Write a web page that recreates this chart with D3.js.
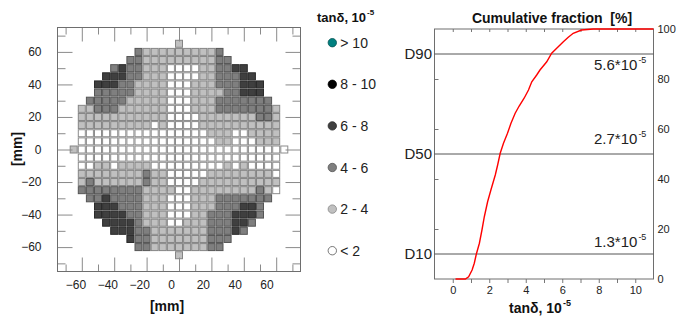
<!DOCTYPE html>
<html>
<head>
<meta charset="utf-8">
<script src="https://cdn.jsdelivr.net/npm/d3@7"></script>
<style>
  body { margin: 0; background: #fff; }
  svg { display: block; font-family: "Liberation Sans", Arial, sans-serif; }
</style>
</head>
<body>
<div id="chart"></div>
<script>
// wafer map, one string per row (y = 65 ... -65 mm), one char per column (x = -65 ... 65 mm)
// 0: < 2, 1: 2 - 4, 2: 4 - 6, 3: 6 - 8, 4: 8 - 10, 5: > 10, ".": no die
var colX = [-65, -60, -55, -50, -45, -40, -35, -30, -25, -20, -15, -10, -5, 0, 5, 10, 15, 20, 25, 30, 35, 40, 45, 50, 55, 60, 65];
var rowY = [65, 60, 55, 50, 45, 40, 35, 30, 25, 20, 15, 10, 5, 0, -5, -10, -15, -20, -25, -30, -35, -40, -45, -50, -55, -60, -65];
var mapRows = [
  ".............1.............",
  "........21111111112........",
  ".......2211111111122.......",
  ".....23221110000112233.....",
  "....3332211100001122233....",
  "...333221111000111222333...",
  "...222221111000111122333...",
  "..22222111110001112222222..",
  ".1122211111100011122222221.",
  ".1111111111100001111111221.",
  ".1111111110100001111111111.",
  ".0000000000000000111001111.",
  ".0000000000000000011000111.",
  "100000000000000000000000000",
  ".0000000000000000000000000.",
  ".0011011110000000001010000.",
  ".1111111121100000111111110.",
  ".1211111121100001111111111.",
  ".2222222211110011111111210.",
  "..22322221110001112222222..",
  "...333222111000111222332...",
  "...333322111000112223332...",
  "....3333211100111222332....",
  ".....33322111111122232.....",
  ".......3221111111222.......",
  "........22111111122........",
  ".............1............."
];

var classLabels = ["< 2", "2 - 4", "4 - 6", "6 - 8", "8 - 10", "> 10"];
var classFill   = ["#ffffff", "#c0c0c0", "#7f7f7f", "#3f3f3f", "#000000", "#008080"];
var classStroke = ["#8c8c8c", "#858585", "#555555", "#2a2a2a", "#000000", "#005050"];
var legendOrder = [5, 4, 3, 2, 1, 0];

var mapMajor = [-60, -40, -20, 0, 20, 40, 60];
var mapMinor = [-70, -50, -30, -10, 10, 30, 50, 70];

// cumulative fraction curve
var cdfX = [0.15, 0.69, 0.87, 1.06, 1.18, 1.29, 1.46, 1.60, 1.73, 1.91, 2.09, 2.33, 2.46, 2.60, 2.78, 3.00, 3.19, 3.42, 3.64, 3.91, 4.15, 4.33, 4.60, 4.78, 5.15, 5.42, 5.78, 6.06, 6.33, 6.60, 7.06, 7.69, 11];
var cdfY = [0, 0, 0.9, 3.6, 6.3, 9.9, 14.3, 19.6, 24.9, 30.9, 35.6, 41.6, 45.6, 50.3, 54.3, 58.3, 62.3, 66.3, 69.2, 72.3, 75.6, 78.9, 81.6, 83.6, 86.9, 90.3, 92.9, 94.9, 96.7, 98.3, 99.6, 100, 100];

var dLevels = [90, 50, 10];
var dNames = ["D90", "D50", "D10"];
var dValues = ["5.6", "2.7", "1.3"];

var W = 689, H = 320;
var svg = d3.select("#chart").append("svg")
  .attr("width", W).attr("height", H);

// ---------- wafer map ----------
var x = d3.scaleLinear().domain([-75, 75]).range([57.5, 300.5]);
var y = d3.scaleLinear().domain([-75, 75]).range([271.5, 27.5]);
var xLab = d3.scaleLinear().domain([-60, 60]).range([75.5, 266.5]);

var cells = [];
mapRows.forEach(function(row, r) {
  row.split("").forEach(function(c, k) {
    if (c !== ".") cells.push({ x: colX[k], y: rowY[r], v: +c });
  });
});

var cw = x(5) - x(0) - 1.1;
svg.append("g").selectAll("rect")
  .data(cells)
  .enter().append("rect")
  .attr("x", function(d) { return x(d.x) - cw / 2; })
  .attr("y", function(d) { return y(d.y) - cw / 2; })
  .attr("width", cw).attr("height", cw)
  .attr("fill", function(d) { return classFill[d.v]; })
  .attr("stroke", function(d) { return classStroke[d.v]; })
  .attr("stroke-width", 1);

function mapTicks(axis, vals, size, tx, ty) {
  svg.append("g")
    .attr("transform", "translate(" + tx + "," + ty + ")")
    .call(axis.tickValues(vals).tickSize(size).tickFormat(""))
    .call(function(g) { g.select(".domain").remove(); })
    .selectAll("line").attr("stroke", "#8a8a8a");
}
mapTicks(d3.axisLeft(y), mapMajor, -15, 57.5, 0);
mapTicks(d3.axisLeft(y), mapMinor, -8, 57.5, 0);
mapTicks(d3.axisRight(y), mapMajor, -15, 300.5, 0);
mapTicks(d3.axisRight(y), mapMinor, -8, 300.5, 0);
mapTicks(d3.axisTop(x), mapMajor, -14, 0, 27.5);
mapTicks(d3.axisTop(x), mapMinor, -7, 0, 27.5);
mapTicks(d3.axisBottom(x), mapMajor, -14, 0, 271.5);
mapTicks(d3.axisBottom(x), mapMinor, -7, 0, 271.5);

svg.append("rect")
  .attr("x", 57.5).attr("y", 27.5)
  .attr("width", 243).attr("height", 244)
  .attr("fill", "none").attr("stroke", "#6e6e6e");

svg.append("g")
  .attr("transform", "translate(57.5,0)")
  .call(d3.axisLeft(y).tickValues(mapMajor).tickSize(0).tickPadding(16))
  .call(function(g) { g.select(".domain").remove(); })
  .selectAll("text").attr("font-size", 12).attr("fill", "#222")
  .attr("font-family", "'Liberation Sans', Arial, sans-serif");

svg.append("g")
  .attr("transform", "translate(0,280)")
  .call(d3.axisBottom(xLab).tickValues(mapMajor).tickSize(0).tickPadding(0))
  .call(function(g) { g.select(".domain").remove(); })
  .selectAll("text").attr("font-size", 12).attr("fill", "#222")
  .attr("font-family", "'Liberation Sans', Arial, sans-serif");

svg.append("text")
  .attr("x", 167).attr("y", 311)
  .attr("text-anchor", "middle")
  .attr("font-size", 14).attr("font-weight", "bold").attr("fill", "#111")
  .text("[mm]");

svg.append("text")
  .attr("transform", "translate(22,149) rotate(-90)")
  .attr("text-anchor", "middle")
  .attr("font-size", 14).attr("font-weight", "bold").attr("fill", "#111")
  .text("[mm]");

// ---------- legend ----------
var lt = svg.append("text")
  .attr("x", 317).attr("y", 22)
  .attr("font-size", 13).attr("font-weight", "bold").attr("fill", "#111");
lt.append("tspan").text("tan\u03b4, 10");
lt.append("tspan").attr("dy", -7).attr("dx", 1).attr("font-size", 8).text("-5");

var ly = d3.scalePoint().domain(legendOrder).range([42.7, 250.7]);
var leg = svg.append("g").selectAll("g")
  .data(legendOrder)
  .enter().append("g")
  .attr("transform", function(d) { return "translate(332.3," + ly(d) + ")"; });
leg.append("circle")
  .attr("r", 4.2)
  .attr("fill", function(d) { return classFill[d]; })
  .attr("stroke", function(d) { return d === 0 ? "#555" : classStroke[d]; })
  .attr("stroke-width", 0.8);
leg.append("text")
  .attr("x", 8).attr("dy", "0.36em")
  .attr("font-size", 14).attr("fill", "#222")
  .text(function(d) { return classLabels[d]; });

// ---------- cumulative fraction ----------
var cx = d3.scaleLinear().domain([-1, 11]).range([434.5, 653.5]);
var cy = d3.scaleLinear().domain([0, 100]).range([279, 29]);

svg.append("g")
  .attr("transform", "translate(0,279)")
  .call(d3.axisBottom(cx).tickValues([0, 1, 2, 3, 4, 5, 6, 7, 8, 9, 10]).tickSize(4).tickPadding(3)
    .tickFormat(function(d) { return d % 2 === 0 ? d : ""; }))
  .call(function(g) { g.select(".domain").remove(); })
  .call(function(g) { g.selectAll("line").attr("stroke", "#777"); })
  .selectAll("text").attr("font-size", 11).attr("fill", "#222")
  .attr("font-family", "'Liberation Sans', Arial, sans-serif");

svg.append("g")
  .attr("transform", "translate(0,29)")
  .call(d3.axisTop(cx).tickValues([0, 1, 2, 3, 4, 5, 6, 7, 8, 9, 10]).tickSize(-3).tickFormat(""))
  .call(function(g) { g.select(".domain").remove(); })
  .selectAll("line").attr("stroke", "#777");

svg.append("g")
  .attr("transform", "translate(434.5,0)")
  .call(d3.axisLeft(cy).tickValues([20, 40, 60, 80]).tickSize(-4).tickFormat(""))
  .call(function(g) { g.select(".domain").remove(); })
  .selectAll("line").attr("stroke", "#777");

svg.append("g")
  .attr("transform", "translate(653.5,0)")
  .call(d3.axisRight(cy).tickValues([0, 20, 40, 60, 80, 100]).tickSize(0).tickPadding(4))
  .call(function(g) { g.select(".domain").remove(); })
  .selectAll("text").attr("font-size", 11).attr("fill", "#222")
  .attr("font-family", "'Liberation Sans', Arial, sans-serif");

svg.append("rect")
  .attr("x", 434.5).attr("y", 29)
  .attr("width", 219).attr("height", 250)
  .attr("fill", "none").attr("stroke", "#6e6e6e");

var dg = svg.append("g").selectAll("g")
  .data(dLevels)
  .enter().append("g");
dg.append("line")
  .attr("x1", cx(-1)).attr("x2", cx(11))
  .attr("y1", function(d) { return cy(d); })
  .attr("y2", function(d) { return cy(d); })
  .attr("stroke", "#555").attr("stroke-width", 1);
dg.append("text")
  .attr("x", 432).attr("y", function(d) { return cy(d); })
  .attr("dy", "0.36em").attr("text-anchor", "end")
  .attr("font-size", 15).attr("fill", "#222")
  .text(function(d, i) { return dNames[i]; });
var valDy = { 90: 16, 50: -10, 10: -7 };
var vt = dg.append("text")
  .attr("x", 594).attr("y", function(d) { return cy(d) + valDy[d]; })
  .attr("font-size", 15).attr("fill", "#222");
vt.append("tspan").text(function(d, i) { return dValues[i] + "*10"; });
vt.append("tspan").attr("dy", -7).attr("dx", 1).attr("font-size", 9).text("-5");

var line = d3.line()
  .x(function(d) { return cx(d[0]); })
  .y(function(d) { return cy(d[1]); });
svg.append("path")
  .datum(d3.zip(cdfX, cdfY))
  .attr("fill", "none")
  .attr("stroke", "#ff0000")
  .attr("stroke-width", 1.4)
  .attr("d", line);

svg.append("text")
  .attr("x", 552).attr("y", 23)
  .attr("text-anchor", "middle")
  .attr("font-size", 14).attr("font-weight", "bold").attr("fill", "#111")
  .text("Cumulative fraction \u00a0[%]");

var xt = svg.append("text")
  .attr("x", 540).attr("y", 313)
  .attr("text-anchor", "middle")
  .attr("font-size", 14).attr("font-weight", "bold").attr("fill", "#111");
xt.append("tspan").text("tan\u03b4, 10");
xt.append("tspan").attr("dy", -7).attr("dx", 1).attr("font-size", 9).text("-5");
</script>
</body>
</html>
